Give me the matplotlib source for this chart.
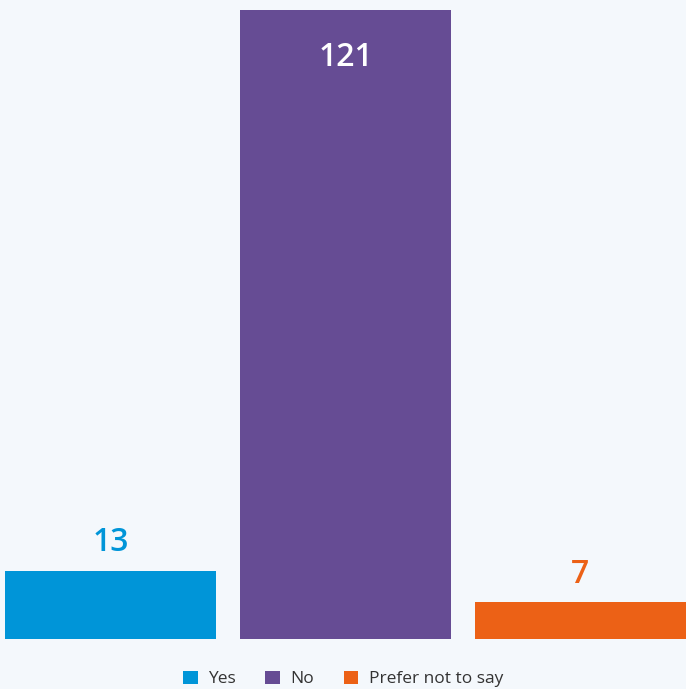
import matplotlib.pyplot as plt
from matplotlib.patches import Patch

categories = ["Yes", "No", "Prefer not to say"]
values = [13, 121, 7]
colors = ["#0095D8", "#664C94", "#EC6116"]
label_colors = ["#0095D8", "#FFFFFF", "#EC6116"]

bg = "#F4F8FC"
fig = plt.figure(figsize=(6.86, 6.89), dpi=100, facecolor=bg)
W, H = 686, 689
ax = fig.add_axes([5 / W, (H - 638.5) / H, 681 / W, 628.5 / H], facecolor=bg)

x = list(range(len(categories)))
ax.bar(x, values, width=0.9, color=colors)
ax.set_xlim(-0.45, 2.45)
ax.set_ylim(0, 121)
ax.axis("off")

font = "Open Sans"
for xi, v, lc in zip(x, values, label_colors):
    if v == max(values):
        ax.annotate(str(v), (xi, v), xytext=(0, -47), textcoords="offset pixels",
                    ha="center", va="center", color=lc, fontsize=23,
                    fontweight="semibold", family=font)
    else:
        ax.annotate(str(v), (xi, v), xytext=(0, 28), textcoords="offset pixels",
                    ha="center", va="center", color=lc, fontsize=23,
                    fontweight="semibold", family=font)

handles = [Patch(facecolor=c, edgecolor="none") for c in colors]
fig.legend(handles, categories, loc="center", bbox_to_anchor=(0.5, (H - 679) / H),
           ncol=3, frameon=False, handlelength=0.85, handleheight=0.85,
           handletextpad=0.6, columnspacing=1.7,
           prop={"family": font, "size": 12.5}, labelcolor="#333333")

fig.savefig("out.png", dpi=100, facecolor=bg)
